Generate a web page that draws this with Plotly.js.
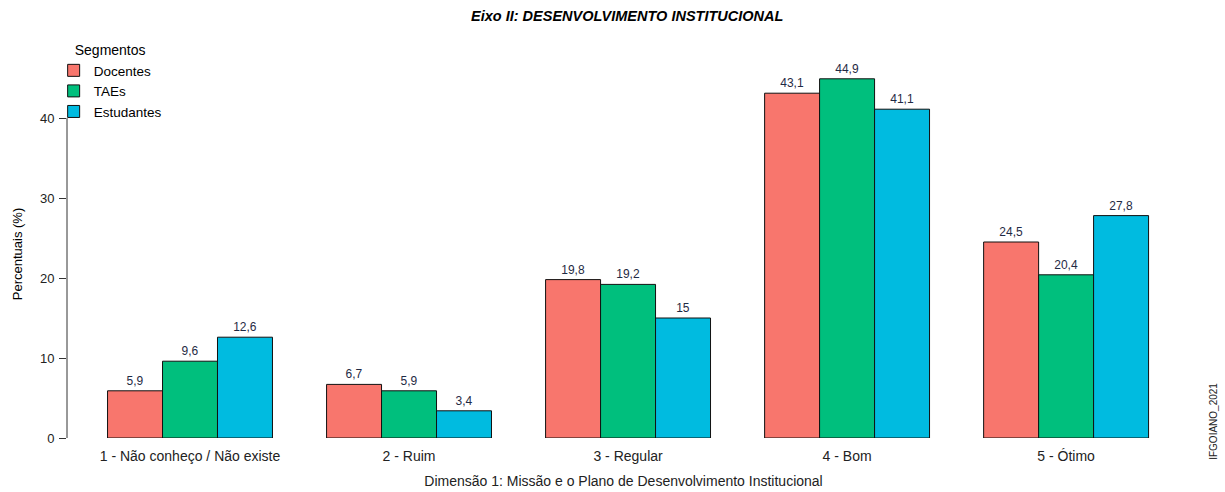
<!DOCTYPE html>
<html>
<head>
<meta charset="utf-8">
<script src="https://cdn.plot.ly/plotly-3.0.1.min.js"></script>
<style>html,body{margin:0;padding:0;background:#fff;}#chart{width:1225px;height:492px;}</style>
</head>
<body>
<div id="chart"></div>
<script>
const categories = ["1 - Não conheço / Não existe", "2 - Ruim", "3 - Regular", "4 - Bom", "5 - Ótimo"];
const seriesNames = ["Docentes", "TAEs", "Estudantes"];
const docentes = [5.9, 6.7, 19.8, 43.1, 24.5];
const taes = [9.6, 5.9, 19.2, 44.9, 20.4];
const estudantes = [12.6, 3.4, 15, 41.1, 27.8];
const colors = ["#F8766D", "#00BF7D", "#00BBE0"];
const yTicks = [0, 10, 20, 30, 40];

const fmt = v => String(v).replace('.', ',');
const allSeries = [docentes, taes, estudantes];
const FONT = "Liberation Sans, Arial, sans-serif";

const traces = allSeries.map((vals, i) => ({
  type: 'bar',
  name: seriesNames[i],
  x: categories,
  y: vals,
  text: vals.map(fmt),
  textposition: 'outside',
  textfont: {family: FONT, size: 12, color: '#1f2a44'},
  cliponaxis: false,
  marker: {color: colors[i], line: {color: '#111', width: 1}},
  hoverinfo: 'none'
}));

const layout = {
  width: 1225, height: 492,
  margin: {l: 67, r: 45, t: 70, b: 54, autoexpand: false},
  paper_bgcolor: '#fff', plot_bgcolor: '#fff',
  barmode: 'group',
  bargap: 0.247,
  bargroupgap: 0,
  font: {family: FONT, color: '#222'},
  title: {
    text: '<b><i>Eixo II: DESENVOLVIMENTO INSTITUCIONAL</i></b>',
    font: {family: FONT, size: 14.5, color: '#000'},
    x: 0.512, xanchor: 'center', y: 0.968, yanchor: 'middle'
  },
  xaxis: {
    type: 'category',
    range: [-0.5616, 4.52],
    showline: false, showgrid: false, zeroline: false,
    ticks: 'outside', ticklen: 5, tickcolor: 'rgba(0,0,0,0)',
    tickfont: {family: FONT, size: 14, color: '#222'},
    title: {text: 'Dimensão 1: Missão e o Plano de Desenvolvimento Institucional',
            font: {family: FONT, size: 14, color: '#222'}, standoff: 13}
  },
  yaxis: {
    range: [0, 46],
    tickvals: yTicks,
    ticktext: yTicks.map(String),
    ticks: 'outside', ticklen: 7, tickcolor: '#333', tickwidth: 1,
    showline: false, showgrid: false, zeroline: false,
    tickfont: {family: FONT, size: 13, color: '#222'},
    ticklabelstandoff: 2,
    title: {text: 'Percentuais (%)', font: {family: FONT, size: 13, color: '#000'}, standoff: 14}
  },
  shapes: [{
    type: 'line', xref: 'paper', yref: 'y',
    x0: 0, x1: 0, y0: yTicks[0], y1: yTicks[yTicks.length - 1],
    line: {color: '#333', width: 1}
  }],
  legend: {
    x: -0.012, xanchor: 'left', y: 1.09, yanchor: 'top',
    xref: 'paper', yref: 'paper',
    bgcolor: 'rgba(0,0,0,0)',
    font: {family: FONT, size: 13.5, color: '#000'},
    title: {text: 'Segmentos', side: 'top center', font: {family: FONT, size: 14, color: '#000'}},
    itemwidth: 30,
    tracegroupgap: 0
  },
  annotations: [{
    text: 'IFGOIANO_2021', xref: 'paper', yref: 'paper',
    x: 1.03, y: -0.065, xanchor: 'center', yanchor: 'bottom',
    textangle: -90, showarrow: false,
    font: {family: FONT, size: 10, color: '#222'}
  }]
};

Plotly.newPlot('chart', traces, layout, {displayModeBar: false, staticPlot: true});
</script>
</body>
</html>
